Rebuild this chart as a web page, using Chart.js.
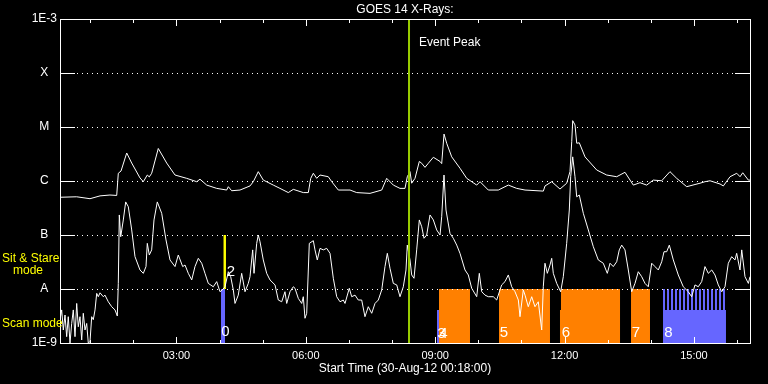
<!DOCTYPE html>
<html>
<head>
<meta charset="utf-8">
<script src="https://cdn.jsdelivr.net/npm/chart.js@4"></script>
<style>
html,body{margin:0;padding:0;background:#000;}
canvas{display:block;}
</style>
</head>
<body>
<canvas id="c" width="768" height="384"></canvas>
<script>
// ---- data (time in hours of 30-Aug-2012, flux in W/m^2) ----
const longTimes = [
0.300,0.687,0.996,1.228,1.459,1.615,1.652,1.715,1.847,1.963,
2.155,2.232,2.324,2.371,2.426,2.579,2.774,2.967,3.238,3.470,
3.546,3.702,3.934,4.165,4.203,4.281,4.474,4.706,4.782,4.898,
5.014,5.246,5.401,5.594,5.710,5.942,6.058,6.114,6.174,6.253,
6.329,6.522,6.601,6.754,7.025,7.180,7.489,7.760,7.876,8.029,
8.184,8.300,8.353,8.416,8.455,8.532,8.632,8.688,8.764,8.841,
8.957,9.112,9.151,9.205,9.267,9.383,9.576,9.731,9.963,10.040,
10.232,10.464,10.696,10.890,11.083,11.508,11.547,11.702,11.894,12.050,
12.126,12.166,12.189,12.242,12.282,12.342,12.474,12.745,12.977,13.209,
13.401,13.594,13.749,13.904,14.057,14.252,14.444,14.600,14.832,15.141,
15.257,15.373,15.605,15.682,15.837,15.993,16.069,16.132,16.262,16.300];
const longFlux = [
5.0e-7,5.1e-7,4.7e-7,5.3e-7,5.5e-7,5.4e-7,1.39e-6,1.53e-6,3.3e-6,2.15e-6,
1.14e-6,9.7e-7,1.29e-6,1.19e-6,1.39e-6,4.0e-6,2.15e-6,1.29e-6,1.12e-6,9.7e-7,
1.08e-6,8.4e-7,7.3e-7,6.8e-7,7.85e-7,6.6e-7,6.8e-7,8.1e-7,9.7e-7,1.49e-6,
1.04e-6,8.4e-7,7.3e-7,6.1e-7,7.0e-7,6.1e-7,6.1e-7,1.12e-6,1.39e-6,1.12e-6,
1.29e-6,1.2e-6,9.7e-7,6.8e-7,6.8e-7,6.1e-7,5.9e-7,6.8e-7,1.12e-6,8.4e-7,
7.3e-7,7.3e-7,1.2e-6,1.49e-6,9.1e-7,1.12e-6,2.3e-6,2.13e-6,1.79e-6,2.13e-6,
2.75e-6,2.3e-6,2.1e-6,7.4e-6,5.0e-6,2.8e-6,1.72e-6,1.12e-6,8.4e-7,9.7e-7,
6.8e-7,6.8e-7,8.4e-7,7.3e-7,6.8e-7,6.5e-7,8.1e-7,9.7e-7,7.1e-7,9.1e-7,
1.49e-6,5.34e-6,1.31e-5,1.09e-5,5.0e-6,5.1e-6,2.8e-6,1.6e-6,1.29e-6,1.2e-6,
1.45e-6,8.4e-7,9.3e-7,8.4e-7,1.04e-6,1.01e-6,1.49e-6,1.12e-6,7.85e-7,9.1e-7,
9.7e-7,1.01e-6,8.8e-7,8.1e-7,1.2e-6,1.39e-6,1.2e-6,1.42e-6,1.04e-6,1.04e-6];

const shortTimes = [
0.300,0.339,0.377,0.416,0.455,0.492,0.532,0.571,0.608,0.648,
0.687,0.724,0.764,0.803,0.840,0.880,0.919,0.956,0.996,1.035,
1.072,1.112,1.151,1.188,1.228,1.304,1.343,1.420,1.499,1.575,
1.629,1.652,1.675,1.708,1.768,1.823,1.884,1.963,2.039,2.155,
2.232,2.294,2.324,2.371,2.426,2.480,2.556,2.658,2.758,2.851,
2.967,3.043,3.145,3.199,3.275,3.354,3.430,3.507,3.586,3.662,
3.739,3.855,3.934,4.010,4.063,4.126,4.203,4.258,4.319,4.358,
4.434,4.513,4.590,4.666,4.706,4.768,4.799,4.861,4.898,4.938,
5.014,5.093,5.170,5.286,5.362,5.441,5.517,5.557,5.633,5.710,
5.749,5.826,5.905,5.942,5.981,6.021,6.081,6.174,6.213,6.266,
6.329,6.406,6.484,6.561,6.638,6.716,6.793,6.869,6.909,7.008,
7.064,7.141,7.217,7.296,7.372,7.449,7.528,7.604,7.681,7.760,
7.836,7.890,7.952,8.029,8.108,8.184,8.261,8.323,8.353,8.416,
8.455,8.509,8.571,8.632,8.688,8.741,8.803,8.880,8.957,9.035,
9.112,9.151,9.204,9.251,9.343,9.420,9.499,9.575,9.691,9.768,
9.847,9.963,10.023,10.079,10.155,10.232,10.348,10.426,10.542,10.619,
10.696,10.774,10.851,10.928,10.967,11.043,11.083,11.159,11.238,11.314,
11.391,11.470,11.507,11.546,11.600,11.662,11.702,11.739,11.818,11.910,
11.971,12.049,12.110,12.142,12.189,12.242,12.281,12.342,12.435,12.551,
12.667,12.782,12.898,12.991,13.054,13.130,13.209,13.269,13.325,13.401,
13.478,13.557,13.633,13.710,13.789,13.865,13.942,14.021,14.097,14.174,
14.253,14.306,14.368,14.429,14.522,14.637,14.753,14.869,14.948,15.024,
15.101,15.180,15.256,15.333,15.412,15.488,15.565,15.644,15.720,15.797,
15.876,15.952,15.991,16.068,16.108,16.184,16.262,16.300];
const shortFlux = [
2.7e-9,4.1e-9,1.74e-9,3.3e-9,1.31e-9,3.07e-9,1.0e-9,2.3e-9,4.1e-9,1.31e-9,
5.4e-9,2.0e-9,3.07e-9,1.14e-9,3.55e-9,1.74e-9,2.3e-9,1.0e-9,1.06e-9,3.07e-9,
2.7e-9,4.1e-9,8.3e-9,7.2e-9,8.5e-9,7.2e-9,7.7e-9,5.8e-9,4.7e-9,4.1e-9,
3.16e-9,1.27e-8,2.35e-7,9.3e-8,1.9e-7,4.1e-7,3.34e-7,1.24e-7,3.97e-8,2.25e-8,
1.95e-8,2.6e-8,7.0e-8,4.26e-8,5.3e-8,1.9e-7,4.1e-7,2.52e-7,8.1e-8,3.45e-8,
2.6e-8,4.26e-8,2.6e-8,2.78e-8,1.95e-8,1.47e-8,2.6e-8,3.7e-8,3.0e-8,1.95e-8,
1.27e-8,1.1e-8,1.37e-8,8.9e-9,9.6e-9,1.1e-8,2.09e-8,1.69e-8,9.6e-9,5.4e-9,
7.7e-9,1.95e-8,8.9e-9,1.27e-8,1.69e-8,5.3e-8,1.95e-8,7.0e-8,1.0e-7,7.5e-8,
3.45e-8,1.95e-8,1.47e-8,1.19e-8,6.25e-9,5.8e-9,8.9e-9,5.4e-9,8.9e-9,1.1e-8,
1.03e-8,6.7e-9,5.4e-9,7.2e-9,2.87e-9,3.55e-9,7.0e-8,7.85e-8,5.3e-8,3.45e-8,
5.66e-8,5.3e-8,5.66e-8,4.58e-8,1.58e-8,7.2e-9,5.8e-9,6.25e-9,5.4e-9,1.03e-8,
7.2e-9,7.7e-9,6.25e-9,6.25e-9,3.07e-9,4.7e-9,3.55e-9,5.4e-9,6.25e-9,9.6e-9,
2.6e-8,4.58e-8,2.42e-8,1.27e-8,1.19e-8,7.2e-9,1.1e-8,2.25e-8,6.5e-8,3.45e-8,
1.82e-8,1.58e-8,5.3e-8,1.9e-7,1.42e-7,8.7e-8,1.0e-7,2.35e-7,1.9e-7,1.24e-7,
1.0e-7,2.18e-7,1.29e-6,2.9e-7,1.07e-7,8.7e-8,6.5e-8,4.58e-8,2.25e-8,1.82e-8,
1.03e-8,7.2e-9,1.95e-8,8.9e-9,7.7e-9,7.2e-9,7.2e-9,6.25e-9,1.19e-8,1.37e-8,
1.82e-8,1.1e-8,8.9e-9,6.25e-9,3.07e-9,9.6e-9,7.7e-9,4.7e-9,7.2e-9,4.7e-9,
5.8e-9,1.74e-9,1.1e-8,3.0e-8,1.95e-8,2.78e-8,3.7e-8,1.95e-8,1.27e-8,8.9e-9,
1.69e-8,7.0e-8,2.9e-7,1.2e-6,2.8e-6,1.2e-6,5.1e-7,5.5e-7,2.52e-7,1.24e-7,
6.07e-8,3.45e-8,3.0e-8,1.95e-8,3.0e-8,2.6e-8,3.2e-8,5.3e-8,6.5e-8,5.3e-8,
2.25e-8,8.9e-9,1.27e-8,2.09e-8,1.69e-8,1.27e-8,1.1e-8,3.0e-8,2.6e-8,2.25e-8,
3.2e-8,4.9e-8,4.9e-8,6.5e-8,3.45e-8,1.82e-8,1.1e-8,8.9e-9,7.2e-9,1.19e-8,
1.1e-8,1.37e-8,2.6e-8,1.95e-8,2.25e-8,1.82e-8,1.19e-8,8.9e-9,1.1e-8,3.0e-8,
3.97e-8,3.45e-8,4.58e-8,2.25e-8,5.3e-8,1.69e-8,1.27e-8,1.69e-8];

// observing-mode bars (edges in hours; each level holds until the next edge)
const orangeTimes  = [9.088, 9.807, 10.480, 11.662, 11.894, 11.917, 13.286, 13.541, 13.981];
const orangeLevels = [1e-8,  1e-9,  1e-8,   1e-9,   4.1e-9, 1e-8,   1e-9,   1e-8,   1e-9];
const blueTimes = [4.033, 4.126, 9.042, 9.088,
  14.283,14.329,14.376,14.422,14.468,14.515,14.561,14.607,14.654,14.700,14.747,14.793,
  14.839,14.886,14.932,14.978,15.025,15.071,15.117,15.164,15.210,15.256,15.303,15.349,
  15.396,15.442,15.488,15.534,15.581,15.627,15.674,15.720,15.743];
const blueLevels = [1e-8, 1e-9, 4.1e-9, 1e-9,
  1e-8,4.1e-9,1e-8,4.1e-9,1e-8,4.1e-9,1e-8,4.1e-9,1e-8,4.1e-9,1e-8,4.1e-9,
  1e-8,4.1e-9,1e-8,4.1e-9,1e-8,4.1e-9,1e-8,4.1e-9,1e-8,4.1e-9,1e-8,4.1e-9,
  1e-8,4.1e-9,1e-8,4.1e-9,1e-8,4.1e-9,1e-8,4.1e-9,1e-9];
const yellowTimes  = [4.087, 4.149];
const yellowLevels = [1e-7, 1e-8];

const eventPeakTime = 8.393;
const eventLabelLevel = 3.67e-4;

const segLabels      = ['0', '2', '3', '4', '5', '6', '7', '8'];
const segLabelTimes  = [4.138, 4.265, 9.146, 9.193, 10.596, 12.033, 13.657, 14.410];
const segLabelLevels = [1.6e-9, 2.06e-8, 1.5e-9, 1.5e-9, 1.55e-9, 1.55e-9, 1.55e-9, 1.55e-9];

const modeLabels      = ['Sit & Stare', 'mode', 'Scan mode'];
const modeLabelLevels = [3.67e-8, 2.15e-8, 2.3e-9];
const modeLabelLeft   = [2, 13, 2];

const xMajorTicks  = [3, 6, 9, 12, 15];
const xTickLabels  = ['03:00', '06:00', '09:00', '12:00', '15:00'];
const xMinorTicks  = [1,2,3,4,5,6,7,8,9,10,11,12,13,14,15,16];
const yTicks       = [1e-9, 1e-8, 1e-7, 1e-6, 1e-5, 1e-4, 1e-3];
const yTickLabels  = ['1E-9', 'A', 'B', 'C', 'M', 'X', '1E-3'];

const FONT = 'Liberation Sans';
const pts = (xs, ys) => xs.map((x, i) => ({x: x, y: ys[i]}));

const overlay = {
  id: 'overlay',
  afterDatasetsDraw(chart) {
    const {ctx, chartArea: a, scales: {x, y}} = chart;
    ctx.save();
    ctx.strokeStyle = '#ffffff';
    ctx.lineWidth = 1;
    yTicks.slice(1, -1).forEach(v => {
      const py = Math.round(y.getPixelForValue(v)) + 0.5;
      ctx.setLineDash([1, 4]);
      ctx.beginPath(); ctx.moveTo(a.left + 17, py); ctx.lineTo(a.right - 15, py); ctx.stroke();
      ctx.setLineDash([]);
      ctx.beginPath();
      ctx.moveTo(a.left, py); ctx.lineTo(a.left + 15, py);
      ctx.moveTo(a.right - 15, py); ctx.lineTo(a.right + 1, py);
      ctx.stroke();
    });
    xMinorTicks.forEach(h => {
      const px = Math.round(x.getPixelForValue(h)) + 0.5;
      const len = xMajorTicks.includes(h) ? 7 : 4;
      ctx.beginPath();
      ctx.moveTo(px, a.top); ctx.lineTo(px, a.top + len);
      ctx.moveTo(px, a.bottom + 1); ctx.lineTo(px, a.bottom + 1 - len);
      ctx.stroke();
    });
    ctx.strokeRect(a.left + 0.5, a.top + 0.5, a.right - a.left, a.bottom - a.top);

    ctx.fillStyle = '#ffffff';
    ctx.textBaseline = 'middle';
    ctx.textAlign = 'left';
    ctx.font = '12px "' + FONT + '"';
    ctx.fillText('Event Peak', x.getPixelForValue(eventPeakTime) + 10, y.getPixelForValue(eventLabelLevel));

    ctx.font = '15px "' + FONT + '"';
    ctx.textAlign = 'center';
    segLabels.forEach((s, i) => {
      ctx.fillText(s, x.getPixelForValue(segLabelTimes[i]), y.getPixelForValue(segLabelLevels[i]));
    });

    ctx.fillStyle = '#ffff00';
    ctx.font = '12px "' + FONT + '"';
    ctx.textAlign = 'left';
    modeLabels.forEach((s, i) => {
      ctx.fillText(s, modeLabelLeft[i], y.getPixelForValue(modeLabelLevels[i]));
    });
    ctx.restore();
  }
};

Chart.defaults.font.family = FONT;
new Chart(document.getElementById('c'), {
  type: 'line',
  data: {
    datasets: [
      {label: 'Long', data: pts(longTimes, longFlux), borderColor: '#ffffff', borderWidth: 1,
       pointRadius: 0, fill: false, tension: 0, order: 1},
      {label: 'Short', data: pts(shortTimes, shortFlux), borderColor: '#ffffff', borderWidth: 1,
       pointRadius: 0, fill: false, tension: 0, order: 1},
      {label: 'Event Peak', data: [{x: eventPeakTime, y: 1e-9}, {x: eventPeakTime, y: 1e-3}],
       borderColor: '#99cc00', borderWidth: 2, pointRadius: 0, fill: false, order: 0},
      {label: 'Sit & Stare', data: pts(yellowTimes, yellowLevels), stepped: 'before',
       borderColor: 'rgba(0,0,0,0)', borderWidth: 0, backgroundColor: '#ffff00',
       fill: {value: 1e-8}, pointRadius: 0, order: 2},
      {label: 'Scan', data: pts(blueTimes, blueLevels), stepped: 'before',
       borderColor: 'rgba(0,0,0,0)', borderWidth: 0, backgroundColor: '#6666ff',
       fill: 'start', pointRadius: 0, order: 2},
      {label: 'Sit & Stare rasters', data: pts(orangeTimes, orangeLevels), stepped: 'before',
       borderColor: 'rgba(0,0,0,0)', borderWidth: 0, backgroundColor: '#ff8000',
       fill: 'start', pointRadius: 0, order: 2}
    ]
  },
  options: {
    responsive: false,
    animation: false,
    devicePixelRatio: 1,
    layout: {padding: {left: 0, right: 18, top: 0, bottom: 0}},
    plugins: {
      legend: {display: false},
      tooltip: {enabled: false},
      title: {display: true, text: 'GOES 14 X-Rays:', color: '#ffffff', fullSize: false,
              font: {family: FONT, size: 12, weight: 'normal'}, padding: {top: 2, bottom: 2.6}}
    },
    scales: {
      x: {
        type: 'linear', min: 0.3, max: 16.3,
        afterBuildTicks: s => { s.ticks = xMajorTicks.map(v => ({value: v})); },
        afterFit: s => { s.height = 41; },
        ticks: {callback: (v, i) => xTickLabels[i], color: '#ffffff', font: {family: FONT, size: 11},
                padding: 6, maxRotation: 0, autoSkip: false},
        grid: {display: false, drawTicks: false},
        border: {display: false},
        title: {display: true, text: 'Start Time (30-Aug-12 00:18:00)', color: '#ffffff',
                font: {family: FONT, size: 12}, padding: {top: 0, bottom: 8}}
      },
      y: {
        type: 'logarithmic', min: 1e-9, max: 1e-3,
        afterBuildTicks: s => { s.ticks = yTicks.map(v => ({value: v})); },
        afterFit: s => { s.width = 60; },
        ticks: {callback: (v, i) => yTickLabels[i], color: '#ffffff', font: {family: FONT, size: 12},
                crossAlign: 'center', padding: 3, autoSkip: false},
        grid: {display: false, drawTicks: false},
        border: {display: false}
      }
    }
  },
  plugins: [overlay]
});
</script>
</body>
</html>
